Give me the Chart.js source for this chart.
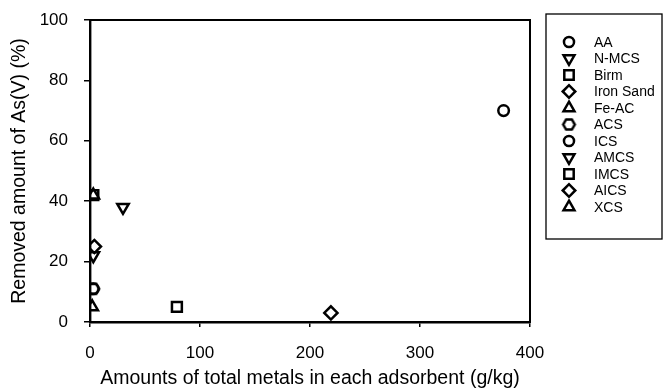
<!DOCTYPE html>
<html>
<head>
<meta charset="utf-8">
<script src="https://cdn.jsdelivr.net/npm/chart.js@4.4.1/dist/chart.umd.min.js"></script>
<style>
  html, body { margin: 0; padding: 0; background: #fff; }
  #wrap { width: 664px; height: 390px; }
</style>
</head>
<body>
<div id="wrap"><canvas id="metalsChart" width="664" height="390"></canvas></div>
<script>
// adsorbent names, metal content (g/kg) and As(V) removal (%)
const adsorbents = ["AA", "N-MCS", "Birm", "Iron Sand", "Fe-AC", "ACS", "ICS", "AMCS", "IMCS", "AICS", "XCS"];
const metalAmounts = [376, 30, 79, 219, 2, 3, 3, 3, 3, 4, 3];
const removedAs = [70, 38, 5, 3, 5, 11, 11, 22, 42, 25, 42];

const xTicks = [0, 100, 200, 300, 400];
const yTicks = [0, 20, 40, 60, 80, 100];

// marker look per adsorbent (kept apart from the data)
const markerStyles = ["circle", "triangle", "rect", "rectRot", "triangle", "hex", "circle", "triangle", "rect", "rectRot", "triangle"];
const markerRotation = [0, 180, 0, 0, 0, 0, 0, 180, 0, 0, 0];

const FONT = "'Liberation Sans', Arial, sans-serif";

// hexagon marker (no built-in one in Chart.js)
function makeHex(r, lw) {
  const size = Math.ceil(2 * r + lw + 2);
  const c = document.createElement("canvas");
  c.width = size;
  c.height = size;
  const g = c.getContext("2d");
  g.strokeStyle = "#000";
  g.lineWidth = lw;
  g.beginPath();
  for (let i = 0; i < 6; i++) {
    const a = Math.PI / 3 * i;
    const px = size / 2 + r * Math.cos(a);
    const py = size / 2 + r * Math.sin(a);
    if (i === 0) g.moveTo(px, py); else g.lineTo(px, py);
  }
  g.closePath();
  g.stroke();
  return c;
}
const hexImg = makeHex(5.8, 2.5);

function pointStyleFor(i) {
  return markerStyles[i] === "hex" ? hexImg : markerStyles[i];
}
function radiusFor(i) {
  const s = markerStyles[i];
  if (s === "rect") return 7;
  if (s === "triangle") return 6.6;
  if (s === "rectRot") return 6.6;
  return 5.3;
}

const datasets = adsorbents.map((name, i) => ({
  label: name,
  data: [{ x: metalAmounts[i], y: removedAs[i] }],
  pointStyle: pointStyleFor(i),
  rotation: markerRotation[i],
  pointRadius: radiusFor(i),
  pointHoverRadius: radiusFor(i),
  borderColor: "#000",
  backgroundColor: "rgba(0,0,0,0)",
  borderWidth: 2.5,
  pointBorderWidth: 2.5
}));

// box round the plot area
const frame = {
  id: "frame",
  afterDatasetsDraw(chart) {
    const { ctx, chartArea: a } = chart;
    ctx.save();
    ctx.strokeStyle = "#000";
    ctx.lineWidth = 2;
    ctx.strokeRect(a.left, a.top, a.right - a.left, a.bottom - a.top);
    ctx.restore();
  }
};

// boxed legend on the right
const boxLegend = {
  id: "boxLegend",
  afterDraw(chart) {
    const ctx = chart.ctx;
    ctx.save();
    ctx.strokeStyle = "#000";
    ctx.lineWidth = 1.3;
    ctx.strokeRect(546, 14, 116, 225);
    ctx.font = "14px " + FONT;
    ctx.textBaseline = "middle";
    ctx.textAlign = "left";
    adsorbents.forEach((name, i) => {
      const y = 42 + i * 16.5;
      const x = 569;
      ctx.strokeStyle = "#000";
      ctx.fillStyle = "rgba(0,0,0,0)";
      ctx.lineWidth = 2.5;
      Chart.helpers.drawPoint(ctx, {
        pointStyle: pointStyleFor(i),
        rotation: markerRotation[i],
        radius: radiusFor(i) * 0.95,
        borderWidth: 2.5
      }, x, y);
      ctx.fillStyle = "#000";
      ctx.fillText(name, 594, y + 1);
    });
    ctx.restore();
  }
};

new Chart(document.getElementById("metalsChart"), {
  type: "scatter",
  data: { datasets },
  options: {
    responsive: false,
    animation: false,
    layout: { padding: { top: 20, right: 134, left: 0, bottom: 0 } },
    plugins: {
      legend: { display: false },
      tooltip: { enabled: false }
    },
    scales: {
      x: {
        type: "linear",
        min: 0,
        max: 400,
        afterBuildTicks: (s) => { s.ticks = xTicks.map((v) => ({ value: v })); },
        afterFit: (s) => { s.height = 68; s.paddingLeft = 0; s.paddingRight = 0; },
        border: { color: "#000", width: 2.4 },
        grid: { drawOnChartArea: false, drawTicks: true, tickLength: 5, color: "#000", lineWidth: 1.5 },
        ticks: { color: "#000", font: { family: FONT, size: 17 }, padding: 16, maxRotation: 0 },
        title: {
          display: true,
          text: "Amounts of total metals in each adsorbent (g/kg)",
          color: "#000",
          font: { family: FONT, size: 19.5 },
          padding: { top: 0, bottom: 0 }
        }
      },
      y: {
        type: "linear",
        min: 0,
        max: 100,
        afterBuildTicks: (s) => { s.ticks = yTicks.map((v) => ({ value: v })); },
        afterFit: (s) => { s.width = 90; s.paddingTop = 0; s.paddingBottom = 0; },
        border: { color: "#000", width: 2.4 },
        grid: { drawOnChartArea: false, drawTicks: true, tickLength: 6, color: "#000", lineWidth: 1.5 },
        ticks: { color: "#000", font: { family: FONT, size: 17 }, padding: 16 },
        title: {
          display: true,
          text: "Removed amount of As(V) (%)",
          color: "#000",
          font: { family: FONT, size: 19.5 },
          padding: { top: 8, bottom: 0 }
        }
      }
    }
  },
  plugins: [frame, boxLegend]
});
</script>
</body>
</html>
